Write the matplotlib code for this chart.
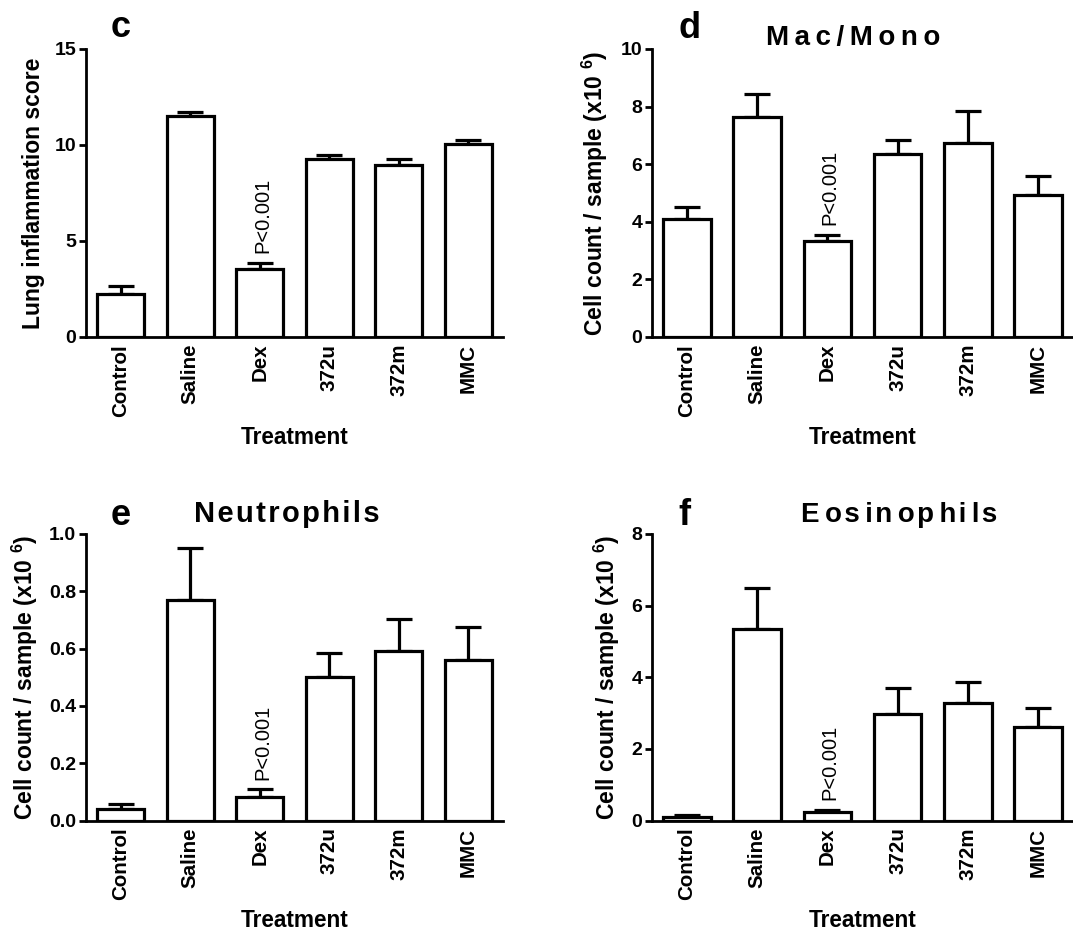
import matplotlib
matplotlib.use('Agg')
import matplotlib.pyplot as plt
import numpy as np

plt.rcParams['font.family'] = ['Liberation Sans', 'DejaVu Sans']
plt.rcParams['font.weight'] = 'bold'
plt.rcParams['mathtext.fontset'] = 'custom'
plt.rcParams['mathtext.rm'] = 'Liberation Sans:bold'
plt.rcParams['mathtext.default'] = 'rm'

treatments = ['Control', 'Saline', 'Dex', '372u', '372m', 'MMC']

# panel c - lung inflammation score
lung_mean = [2.22, 11.5, 3.52, 9.29, 8.97, 10.05]
lung_top = [2.65, 11.7, 3.87, 9.50, 9.25, 10.26]

# panel d - mac/mono
mac_mean = [4.11, 7.64, 3.32, 6.36, 6.74, 4.94]
mac_top = [4.53, 8.44, 3.54, 6.85, 7.83, 5.58]

# panel e - neutrophils
neu_mean = [0.041, 0.769, 0.084, 0.502, 0.591, 0.562]
neu_top = [0.058, 0.950, 0.109, 0.584, 0.705, 0.675]

# panel f - eosinophils
eos_mean = [0.10, 5.35, 0.25, 2.98, 3.29, 2.61]
eos_top = [0.15, 6.49, 0.31, 3.70, 3.88, 3.14]

cell_label = r'Cell count / sample (x10 $^{6}$)'

W, H = 1073, 933
THIN, HAIR = '\u2009', '\u200a'


def spaced(s, gaps):
    # letter-spaced title, gaps cycles through the given spacers
    out = s[0]
    for i, ch in enumerate(s[1:]):
        out += gaps[i % len(gaps)] + ch
    return out


panels = [
    # letter, (letter x, baseline px), title, (title x, baseline px, size),
    # mean, top, ymax, yticks, fmt, ylabel, rect, ylabel x
    ('c', (121, 37), '', None, lung_mean, lung_top, 15, [0, 5, 10, 15], '%d',
     'Lung inflammation score', [0.0801, 0.6388, 0.3886, 0.3087], -0.099),
    ('d', (690, 38), spaced('Mac/Mono', [THIN]), (853, 45, 20), mac_mean, mac_top, 10,
     [0, 2, 4, 6, 8, 10], '%d', cell_label, [0.6076, 0.6388, 0.3924, 0.3087], -0.100),
    ('e', (121, 525), spaced('Neutrophils', [HAIR]), (287, 522, 21), neu_mean, neu_top, 1.0,
     [0, 0.2, 0.4, 0.6, 0.8, 1.0], '%.1f', cell_label, [0.0801, 0.1204, 0.3886, 0.3073], -0.110),
    ('f', (684, 525), spaced('Eosinophils', [THIN, HAIR]), (899, 522, 20), eos_mean, eos_top, 8,
     [0, 2, 4, 6, 8], '%d', cell_label, [0.6076, 0.1204, 0.3924, 0.3073], -0.071),
]

fig = plt.figure(figsize=(W / 100, H / 100), dpi=100)

for (letter, lpos, title, tpos, mean, top, ymax, yticks, fmt,
     ylabel, rect, ylx) in panels:
    ax = fig.add_axes(rect)
    x = np.arange(len(treatments))
    mean = np.array(mean)
    err = np.array(top) - mean
    ax.errorbar(x, mean, yerr=[np.zeros_like(err), err], fmt='none',
                ecolor='black', elinewidth=2.3, capsize=9.5, capthick=2.3, zorder=2)
    ax.bar(x, mean, width=0.68, color='white', edgecolor='black', linewidth=2.3, zorder=3)
    ax.set_xlim(-0.5, 5.5)
    ax.set_ylim(0, ymax)
    ax.set_yticks(yticks)
    ax.set_yticklabels([fmt % t for t in yticks])
    ax.set_xticks(x)
    ax.set_xticklabels(treatments, rotation=90)
    ax.tick_params(axis='x', length=0, pad=5, labelsize=14.8)
    ax.tick_params(axis='y', length=5, width=2, pad=2, labelsize=14)
    for s in ['top', 'right']:
        ax.spines[s].set_visible(False)
    for s in ['left', 'bottom']:
        ax.spines[s].set_linewidth(2)
    ax.set_ylabel(ylabel, fontsize=16.5, fontweight='bold')
    ax.yaxis.set_label_coords(ylx, 0.5)
    ax.set_xlabel('Treatment', fontsize=16.3, fontweight='bold')
    ax.xaxis.set_label_coords(0.5, -0.308)
    # p value above Dex
    ax.annotate('P<0.001', xy=(2, top[2]), xytext=(2, 7), textcoords='offset points',
                rotation=90, ha='center', va='bottom', fontsize=14.5, fontweight='normal')
    fig.text(lpos[0] / W, 1 - lpos[1] / H, letter, fontsize=26, fontweight='bold',
             ha='center', va='baseline')
    if title:
        fig.text(tpos[0] / W, 1 - tpos[1] / H, title, fontsize=tpos[2],
                 fontweight='bold', ha='center', va='baseline')

fig.savefig('out.png', dpi=100)
